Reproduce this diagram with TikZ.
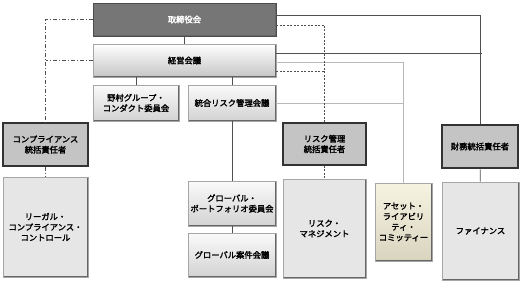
\documentclass[tikz,border=0pt]{standalone}
\usepackage{fontspec}
\setmainfont{Noto Sans CJK JP}[AutoFakeBold=2.2]
\usepackage{tikz}
\usetikzlibrary{positioning, calc}
\usepackage{xcolor}
\definecolor{boardgray}{HTML}{767676}
\definecolor{headgray}{HTML}{C4C4C4}
\definecolor{biggray}{HTML}{E6E6E6}
\definecolor{almtop}{HTML}{F6F3E2}
\definecolor{almbot}{HTML}{D8D4BE}
\definecolor{linegray}{HTML}{505050}

\begin{document}
\begin{tikzpicture}[x=1pt, y=-1pt,
  bevel/.style={path picture={
      \draw[black!60, line width=2.2pt] (path picture bounding box.north east)
        -- (path picture bounding box.south east) -- (path picture bounding box.south west);
      \draw[white, line width=1.6pt] (path picture bounding box.south west)
        -- (path picture bounding box.north west) -- (path picture bounding box.north east);}},
  unit/.style={draw=gray!70, line width=0.6pt, inner sep=0pt, align=center,
               font=\fontsize{8.3}{10.5}\selectfont\bfseries, bevel},
  boardbox/.style={unit, fill=boardgray, draw=black!70, text=white},
  execbox/.style={unit, top color=white, bottom color=gray!45},
  subbox/.style={unit, top color=gray!4, bottom color=gray!35},
  headbox/.style={unit, fill=headgray, draw=black!80, line width=1.3pt},
  bigbox/.style={unit, fill=biggray},
  almbox/.style={unit, top color=almtop, bottom color=almbot},
  conn/.style={draw=linegray, line width=0.7pt},
  soft/.style={draw=gray!55, line width=0.7pt},
  link/.style={conn, dashed, dash pattern=on 2pt off 1.5pt},
  chain/.style={conn, dash pattern=on 4pt off 2pt on 1pt off 2pt}
]
  \useasboundingbox (0,0) rectangle (521,283);

  % top of the tree
  \node[boardbox, minimum width=183pt, minimum height=33pt] (board) at (184.5,19.5) {取締役会};
  \node[execbox, minimum width=183pt, minimum height=33pt] (exec) at (184.5,60.5) {経営会議};
  \node[subbox, minimum width=86pt, minimum height=36pt] (nomura) at (136,103) {野村グループ・\\コンダクト委員会};
  \node[subbox, minimum width=88pt, minimum height=36pt] (integ) at (232,103) {統合リスク管理会議};

  % committees below
  \node[subbox, minimum width=88pt, minimum height=45pt] (gport) at (232,203.5) {グローバル・\\ポートフォリオ委員会};
  \node[subbox, minimum width=88pt, minimum height=44pt] (gdeal) at (232,255) {グローバル案件会議};

  % heads and their units
  \node[headbox, minimum width=85pt, minimum height=43pt] (compl) at (45.5,144.5) {コンプライアンス\\統括責任者};
  \node[bigbox, minimum width=85pt, minimum height=100pt] (legal) at (45.5,227) {リーガル・\\コンプライアンス・\\コントロール};
  \node[headbox, minimum width=83pt, minimum height=42pt] (riskhead) at (324.5,144) {リスク管理\\統括責任者};
  \node[bigbox, minimum width=83pt, minimum height=99pt] (riskmgmt) at (324.5,228.5) {リスク・\\マネジメント};
  \node[almbox, minimum width=57pt, minimum height=78pt] (alm) at (403.5,222) {アセット・\\ライアビリ\\ティ・\\コミッティー};
  \node[headbox, minimum width=76pt, minimum height=43pt] (finhead) at (480,146.5) {財務統括責任者};
  \node[bigbox, minimum width=77pt, minimum height=98pt] (finance) at (480.5,231) {ファイナンス};

  % helper points on the right of the two boards
  \coordinate (bdTop) at ([yshift=4.5pt]board.east);
  \coordinate (bdDash) at ([yshift=-5.5pt]board.east);
  \coordinate (exTop) at ([yshift=7.5pt]exec.east);
  \coordinate (exMid) at ([yshift=-1.5pt]exec.east);
  \coordinate (exDash) at ([yshift=-10.5pt]exec.east);
  \coordinate (exEnd) at (482,53);

  % solid reporting lines
  \draw[conn] (board) -- (exec);
  \draw[conn] (nomura.north) -- (nomura.north |- exec.south);
  \draw[conn] (integ.north) -- (integ.north |- exec.south);
  \draw[conn] (integ) -- (gport);
  \draw[conn] (gport) -- (gdeal);
  \draw[conn] (bdTop) -| (finhead.north);
  \draw[conn] (exTop) -- (exEnd);
  \draw[conn] (finhead) -- (finance);

  % soft line to the ALM committee
  \draw[soft] (exMid) -| (alm.north);
  \draw[soft] (integ.east) -- (integ.east -| alm.north);

  % compliance, dash-dot
  \draw[chain] (board.west) -| (compl.north);
  \draw[chain] (exec.west) -- (exec.west -| compl.north);
  \draw[chain] (compl) -- (legal);

  % risk management, dashed
  \draw[link] (bdDash) -| (riskhead.north);
  \draw[link] (exDash) -- (exDash -| riskhead.north);
  \draw[link] (riskhead) -- (riskmgmt);
\end{tikzpicture}
\end{document}
